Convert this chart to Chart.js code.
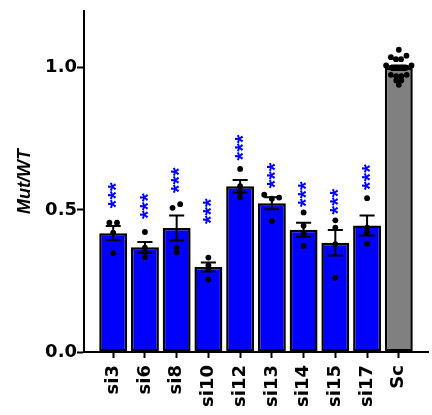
<!DOCTYPE html>
<html>
<head>
<meta charset="utf-8">
<script src="https://cdn.jsdelivr.net/npm/chart.js@4.4.0/dist/chart.umd.min.js"></script>
<style>
html,body{margin:0;padding:0;background:#fff;}
#wrap{position:relative;width:432px;height:415px;}
</style>
</head>
<body>
<div id="wrap"><canvas id="c" width="432" height="415"></canvas></div>
<script>
// ---- data ----
const categories = ['si3','si6','si8','si10','si12','si13','si14','si15','si17','Sc'];
const means      = [0.418, 0.368, 0.436, 0.299, 0.583, 0.523, 0.430, 0.384, 0.445, 1.000];
const sems       = [0.025, 0.019, 0.044, 0.016, 0.022, 0.021, 0.025, 0.045, 0.035, 0.008];
const barColors  = ['#0000ff','#0000ff','#0000ff','#0000ff','#0000ff','#0000ff','#0000ff','#0000ff','#0000ff','#808080'];
const dotValues = [
  [0.455, 0.455, 0.420, 0.347],
  [0.422, 0.367, 0.352, 0.334],
  [0.507, 0.520, 0.367, 0.350],
  [0.332, 0.305, 0.293, 0.255],
  [0.644, 0.583, 0.562, 0.544],
  [0.553, 0.539, 0.543, 0.460],
  [0.491, 0.444, 0.416, 0.373],
  [0.463, 0.437, 0.379, 0.261],
  [0.541, 0.437, 0.420, 0.381],
  [1.063, 1.037, 1.030, 1.030, 1.042, 1.008, 1.008, 1.000, 1.000, 1.000, 1.000, 0.975, 0.970, 0.970, 0.975, 0.955, 0.955, 0.940]
];
const dotSpread = [
  [-0.12, 0.12, 0, 0],
  [0, 0, 0, 0],
  [-0.13, 0.11, 0, 0],
  [0, 0, 0, 0],
  [0, 0, 0, 0],
  [-0.24, 0, 0.23, 0],
  [0, 0, 0, 0],
  [0, 0, 0, 0],
  [0, 0, 0, 0],
  [0, -0.25, -0.09, 0.07, 0.24, -0.40, 0.40, -0.24, -0.08, 0.08, 0.24, -0.25, -0.08, 0.08, 0.25, -0.08, 0.08, 0]
];
const starLabels = ['***','***','***','***','***','***','***','***','***',''];
const starLevels = [0.551, 0.513, 0.604, 0.495, 0.719, 0.621, 0.555, 0.529, 0.615, null];
const yTicks = [0, 0.5, 1.0];
const yTitle = 'Mut/WT';

// ---- build datasets ----
const barData = means.map((v, i) => ({x: i, y: v}));
const dotData = [];
dotValues.forEach((arr, i) => arr.forEach((v, j) => dotData.push({x: i + dotSpread[i][j], y: v})));

const tickFont = {family: '"DejaVu Sans", sans-serif', size: 18, weight: 'bold'};

const errorBarPlugin = {
  id: 'errorBars',
  afterDatasetsDraw(chart) {
    const ctx = chart.ctx;
    const meta = chart.getDatasetMeta(1);
    const ys = chart.scales.y;
    ctx.save();
    ctx.strokeStyle = '#000';
    ctx.lineWidth = 2;
    meta.data.forEach((bar, i) => {
      const x = bar.x;
      const half = bar.width * 0.27;
      const top = ys.getPixelForValue(means[i] + sems[i]);
      const bot = ys.getPixelForValue(means[i] - sems[i]);
      ctx.beginPath();
      ctx.moveTo(x, top); ctx.lineTo(x, bot);
      ctx.moveTo(x - half, top); ctx.lineTo(x + half, top);
      ctx.moveTo(x - half, bot); ctx.lineTo(x + half, bot);
      ctx.stroke();
    });
    ctx.restore();
  }
};

const starPlugin = {
  id: 'stars',
  afterDatasetsDraw(chart) {
    const ctx = chart.ctx;
    const xs = chart.scales.x, ys = chart.scales.y;
    const fs = 22;
    ctx.save();
    ctx.fillStyle = '#0000ff';
    ctx.font = 'bold ' + fs + 'px "Liberation Sans", Arial, sans-serif';
    ctx.textAlign = 'center';
    ctx.textBaseline = 'alphabetic';
    starLabels.forEach((s, i) => {
      if (!s || starLevels[i] == null) return;
      const x = xs.getPixelForValue(i);
      const y = ys.getPixelForValue(starLevels[i]);
      ctx.save();
      ctx.translate(x, y);
      ctx.rotate(-Math.PI / 2);
      ctx.fillText(s, 0, fs * 0.44);
      ctx.restore();
    });
    ctx.restore();
  }
};

new Chart(document.getElementById('c'), {
  data: {
    datasets: [
      {
        type: 'scatter',
        data: dotData,
        pointRadius: 2.9,
        pointBackgroundColor: '#000',
        pointBorderWidth: 0,
        pointHoverRadius: 2.9,
        order: 0
      },
      {
        type: 'bar',
        data: barData,
        backgroundColor: barColors,
        borderColor: '#000',
        borderWidth: 2.5,
        borderSkipped: false,
        barPercentage: 0.88,
        categoryPercentage: 1.0,
        order: 1
      }
    ]
  },
  options: {
    responsive: false,
    animation: false,
    events: [],
    layout: {padding: {top: 8, right: 4, left: 0, bottom: 0}},
    plugins: {legend: {display: false}, tooltip: {enabled: false}},
    scales: {
      x: {
        type: 'linear',
        min: -0.92,
        max: 9.92,
        offset: false,
        afterBuildTicks: (s) => { s.ticks = categories.map((c, i) => ({value: i})); },
        afterFit: (s) => { s.height = 63; },
        ticks: {
          callback: (v) => categories[v] !== undefined ? categories[v] : '',
          autoSkip: false,
          minRotation: 90,
          maxRotation: 90,
          padding: 7,
          color: '#000',
          font: tickFont
        },
        grid: {display: true, offset: false, drawOnChartArea: false, drawTicks: true, tickLength: 6, tickWidth: 2, tickColor: '#000'},
        border: {display: true, color: '#000', width: 2}
      },
      y: {
        type: 'linear',
        min: 0,
        max: 1.2,
        afterBuildTicks: (s) => { s.ticks = yTicks.map(v => ({value: v})); },
        afterFit: (s) => { s.width = 84; },
        ticks: {
          callback: (v) => Number(v).toFixed(1),
          padding: 0,
          color: '#000',
          font: tickFont
        },
        grid: {display: true, offset: false, drawOnChartArea: false, drawTicks: true, tickLength: 7, tickWidth: 2, tickColor: '#000'},
        border: {display: true, color: '#000', width: 2},
        title: {
          display: true,
          text: yTitle,
          color: '#000',
          padding: {top: 14, bottom: 0},
          font: {family: '"Liberation Sans", Arial, sans-serif', size: 18, weight: 'bold', style: 'italic'}
        }
      }
    }
  },
  plugins: [errorBarPlugin, starPlugin]
});
</script>
</body>
</html>
